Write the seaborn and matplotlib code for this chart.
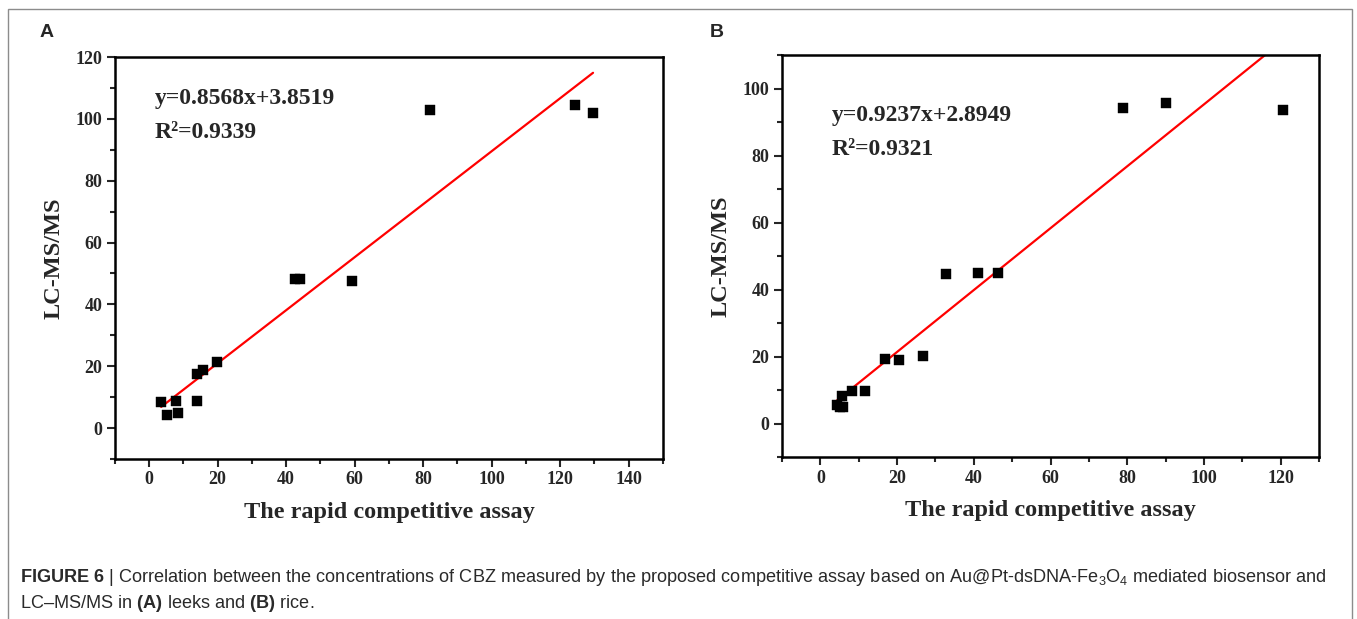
## ==========================================
## Figure 6 - CBZ correlation, rapid assay vs LC-MS/MS
## ==========================================

import numpy as np
import pandas as pd
import matplotlib
matplotlib.use("Agg")
import matplotlib.pyplot as plt
from matplotlib.ticker import MultipleLocator
from matplotlib.patches import Rectangle
import seaborn as sns

## ==========================================
## Data
## ==========================================

leeks_assay = [3.5, 5.1, 7.9, 8.3, 13.9, 14.1, 15.7, 19.9, 42.6, 44.0, 59.3, 82.0, 124.2, 129.6]
leeks_lcms = [8.5, 4.1, 8.9, 4.9, 8.8, 17.6, 18.7, 21.4, 48.1, 48.3, 47.6, 102.8, 104.6, 102.0]
leeks_slope = 0.8568
leeks_intercept = 3.8519
leeks_r2 = 0.9339

rice_assay = [4.2, 5.0, 6.0, 5.6, 8.3, 11.5, 16.8, 20.6, 26.8, 32.8, 41.1, 46.2, 78.8, 90.0, 120.5]
rice_lcms = [5.4, 4.9, 4.9, 8.3, 9.6, 9.8, 19.3, 18.9, 20.1, 44.6, 44.8, 44.9, 94.2, 95.6, 93.7]
rice_slope = 0.9237
rice_intercept = 2.8949
rice_r2 = 0.9321

x_label = "The rapid competitive assay"
y_label = "LC-MS/MS"

## ==========================================
## Style
## ==========================================

sns.set_style("white")
plt.rcParams["font.family"] = ["Liberation Serif", "DejaVu Serif"]
plt.rcParams["mathtext.fontset"] = "custom"
plt.rcParams["mathtext.rm"] = "Liberation Sans"
plt.rcParams["mathtext.it"] = "Liberation Sans:italic"
plt.rcParams["mathtext.bf"] = "Liberation Sans:bold"

fig = plt.figure(figsize=(13.57, 6.19), dpi=100)

## ==========================================
## Panel helper
## ==========================================

def draw_panel(ax, xs, ys, slope, intercept, r2, xlim, ylim, yticks, text_pos, letter):

    df = pd.DataFrame({"assay": xs, "lcms": ys})

    line_x = np.array([min(xs), max(xs)])
    line_df = pd.DataFrame({"assay": line_x, "lcms": slope * line_x + intercept})

    sns.lineplot(data=line_df, x="assay", y="lcms", ax=ax,
                 color="#ff0000", linewidth=1.6, zorder=2)

    sns.scatterplot(data=df, x="assay", y="lcms", ax=ax, marker="s",
                    s=55, color="black", edgecolor="black", linewidth=0.3, zorder=3)

    ax.set_xlim(*xlim)
    ax.set_ylim(*ylim)

    ax.xaxis.set_major_locator(MultipleLocator(20))
    ax.xaxis.set_minor_locator(MultipleLocator(10))
    ax.set_yticks(yticks)
    ax.yaxis.set_minor_locator(MultipleLocator(10))

    ax.tick_params(which="major", direction="out", length=6, width=1.5,
                   labelsize=13, pad=3, bottom=True, left=True, top=False, right=False)
    ax.tick_params(which="minor", direction="out", length=3.5, width=1.5,
                   bottom=True, left=True, top=False, right=False)

    for lab in ax.get_xticklabels() + ax.get_yticklabels():
        lab.set_fontweight("bold")

    for sp in ax.spines.values():
        sp.set_linewidth(1.8)
        sp.set_color("black")

    ax.set_xlabel(x_label, fontsize=17.5, fontweight="bold", labelpad=10)
    ax.set_ylabel(y_label, fontsize=17.5, fontweight="bold", labelpad=8)

    ax.text(text_pos[0], text_pos[1], f"y={slope}x+{intercept}",
            transform=ax.transAxes, fontsize=17, fontweight="bold", va="center")
    ax.text(text_pos[0], text_pos[1] - 0.085, f"R\u00b2={r2}",
            transform=ax.transAxes, fontsize=17, fontweight="bold", va="center")

    fig.text(letter[1], letter[2], letter[0], fontsize=14, fontweight="bold",
             family="Liberation Sans", va="center", ha="left")

## ==========================================
## Panels
## ==========================================

ax_a = fig.add_axes([0.0847, 0.2585, 0.4038, 0.6494])
draw_panel(ax_a, leeks_assay, leeks_lcms, leeks_slope, leeks_intercept, leeks_r2,
           (-10, 150), (-10, 120), [0, 20, 40, 60, 80, 100, 120],
           (0.073, 0.898), ("A", 0.029, 0.948))

ax_b = fig.add_axes([0.5763, 0.2617, 0.3957, 0.6494])
draw_panel(ax_b, rice_assay, rice_lcms, rice_slope, rice_intercept, rice_r2,
           (-10, 130), (-10, 110), [0, 20, 40, 60, 80, 100],
           (0.093, 0.850), ("B", 0.523, 0.948))

## ==========================================
## Frame and caption
## ==========================================

fig.patches.append(Rectangle((8 / 1357, -0.01), (1352 - 8) / 1357, 1 - 9 / 619 + 0.01,
                             transform=fig.transFigure, fill=False,
                             edgecolor="#8c8c8c", linewidth=1.0))

caption_1 = (r"$\mathbf{FIGURE\ 6}$ | Correlation between the concentrations of CBZ measured by the "
             r"proposed competitive assay based on Au@Pt-dsDNA-Fe$_3$O$_4$ mediated biosensor and")
caption_2 = r"LC–MS/MS in $\mathbf{(A)}$ leeks and $\mathbf{(B)}$ rice."

fig.text(20 / 1357, 1 - 577 / 619, caption_1, fontsize=13.1, family="Liberation Sans",
         color="#2a2a2a", va="center", ha="left")
fig.text(20 / 1357, 1 - 603 / 619, caption_2, fontsize=13.1, family="Liberation Sans",
         color="#2a2a2a", va="center", ha="left")

plt.savefig("out.png", dpi=100)
plt.close()
